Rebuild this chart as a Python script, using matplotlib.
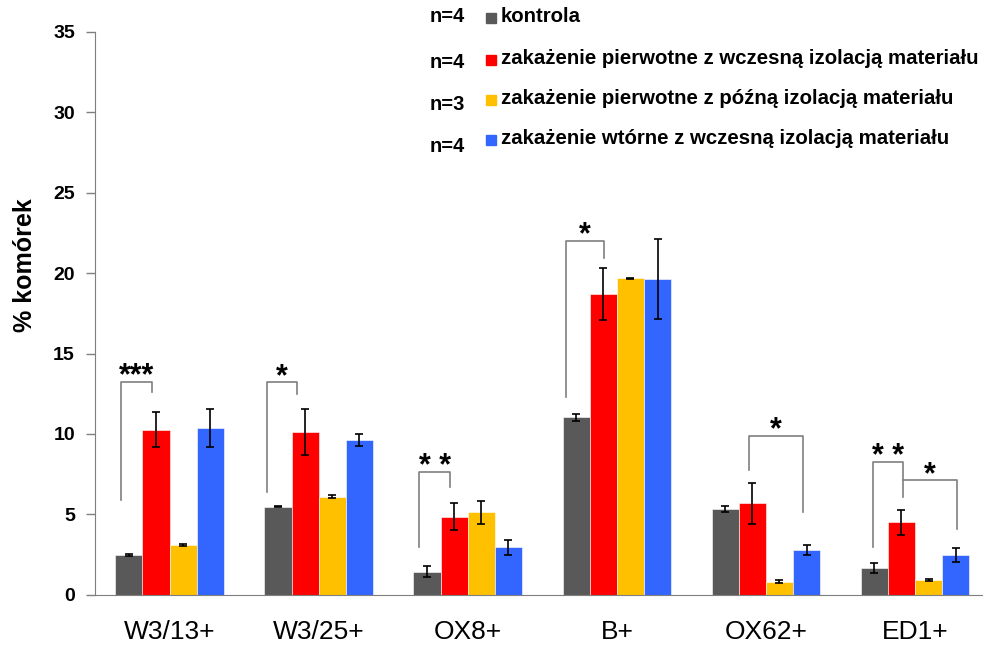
import numpy as np
import matplotlib.pyplot as plt

plt.rcParams['font.family'] = ['Liberation Sans', 'DejaVu Sans']

markers = ['W3/13+', 'W3/25+', 'OX8+', 'B+', 'OX62+', 'ED1+']
groups = ['kontrola',
          'zakażenie pierwotne z wczesną izolacją materiału',
          'zakażenie pierwotne z późną izolacją materiału',
          'zakażenie wtórne z wczesną izolacją materiału']
group_n = ['n=4', 'n=4', 'n=3', 'n=4']

kontrola = [2.49, 5.49, 1.45, 11.05, 5.33, 1.66]
wczesna = [10.26, 10.14, 4.87, 18.70, 5.68, 4.52]
pozna = [3.11, 6.11, 5.12, 19.67, 0.83, 0.93]
wtorne = [10.37, 9.62, 2.96, 19.63, 2.76, 2.47]

kontrola_err = [0.06, 0.05, 0.34, 0.22, 0.20, 0.29]
wczesna_err = [1.09, 1.44, 0.85, 1.60, 1.26, 0.77]
pozna_err = [0.05, 0.07, 0.73, 0.03, 0.10, 0.07]
wtorne_err = [1.16, 0.36, 0.46, 2.50, 0.31, 0.42]

# significance brackets: (group, x left, x right, left foot, top, right foot, stars)
brackets = [
    (0, -0.324, -0.121, 5.9, 13.25, 12.6, '***'),
    (1, -0.349, -0.143, 6.4, 13.2, 12.5, '*'),
    (2, -0.326, -0.117, 3.0, 7.63, 6.73, '* *'),
    (3, -0.342, -0.085, 12.3, 22.0, 20.94, '*'),
    (4, -0.111, 0.249, 7.73, 9.9, 5.14, '*'),
    (5, -0.284, -0.078, 3.0, 8.25, 6.11, '* *'),
    (5, -0.078, 0.28, 7.11, 7.11, 4.09, '*'),
]

values = [kontrola, wczesna, pozna, wtorne]
errors = [kontrola_err, wczesna_err, pozna_err, wtorne_err]
colors = ['#595959', '#FF0000', '#FFC000', '#3366FF']

fig = plt.figure(figsize=(9.9, 6.48), dpi=100)
ax = fig.add_axes([0.096, 0.082, 0.896, 0.869])

x = np.arange(len(markers))
w = 0.182
for i in range(4):
    ax.bar(x + (i - 1.5) * w, values[i], w, color=colors[i],
           edgecolor='white', linewidth=0.4,
           yerr=errors[i], capsize=3,
           error_kw=dict(ecolor='black', elinewidth=1.2, capthick=1.2))

for g, xl, xr, yl, yt, yr, stars in brackets:
    ax.plot([g + xl, g + xl, g + xr, g + xr], [yl, yt, yt, yr],
            color='#7f7f7f', lw=1.2)
    ax.text(g + (xl + xr) / 2, yt - 0.15, stars, ha='center', va='baseline',
            fontsize=22, fontweight='bold')

ax.set_xlim(-0.5, 5.45)
ax.set_ylim(0, 35)
ax.set_yticks(np.arange(0, 36, 5))
ax.set_xticks(x)
ax.set_xticklabels(markers, fontsize=19)
for lbl in ax.get_yticklabels():
    lbl.set_fontweight('bold')
ax.tick_params(axis='y', labelsize=14, length=6.5, width=1, color='#7f7f7f', pad=8)
ax.tick_params(axis='x', length=0, pad=18)
ax.spines['top'].set_visible(False)
ax.spines['right'].set_visible(False)
ax.spines['left'].set_color('#7f7f7f')
ax.spines['bottom'].set_color('#7f7f7f')
ax.set_ylabel('% komórek', fontsize=18, fontweight='bold')
ax.yaxis.set_label_coords(-0.065, 0.585)

# legend drawn by hand, rows in figure pixels
row_text = [17, 59, 99, 139]
row_n = [17, 62, 104, 147]
H = 648.0
for i in range(4):
    fig.text(430 / 990, 1 - row_n[i] / H, group_n[i], fontsize=14.5,
             fontweight='bold', va='center', ha='left')
    fig.patches.append(plt.Rectangle((486 / 990, 1 - (row_text[i] + 6) / H),
                                     10 / 990, 10 / H, color=colors[i],
                                     transform=fig.transFigure))
    fig.text(501 / 990, 1 - row_text[i] / H, groups[i], fontsize=14.7,
             fontweight='bold', va='center', ha='left')

fig.savefig('out.png', dpi=100)
